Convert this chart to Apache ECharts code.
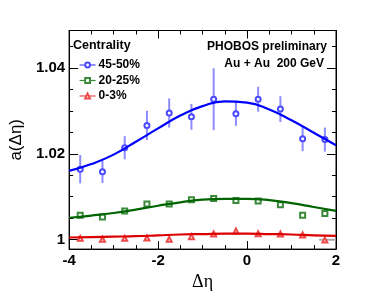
<!DOCTYPE html>
<html>
<head>
<meta charset="utf-8">
<script src="https://cdn.jsdelivr.net/npm/echarts@6/dist/echarts.min.js"></script>
<style>html,body{margin:0;padding:0;background:#fff;}#c{width:374px;height:296px;}</style>
</head>
<body>
<div id="c"></div>
<script>
// ---- data ----
const etaBins   = [-3.75, -3.25, -2.75, -2.25, -1.75, -1.25, -0.75, -0.25, 0.25, 0.75, 1.25, 1.75];
const blueVals  = [1.0164, 1.0158, 1.0214, 1.0266, 1.0295, 1.0286, 1.0327, 1.0293, 1.0327, 1.0304, 1.0235, 1.0233];
const blueErr   = [0.0033, 0.0026, 0.0027, 0.0034, 0.0034, 0.0030, 0.0072, 0.0028, 0.0029, 0.0030, 0.0029, 0.0028];
const greenVals = [1.0057, 1.0053, 1.0067, 1.0083, 1.0083, 1.0093, 1.0096, 1.0091, 1.0090, 1.0081, 1.0057, 1.0061];
const greenErr  = [0.0007, 0.0006, 0.0006, 0.0007, 0.0007, 0.0007, 0.0007, 0.0006, 0.0007, 0.0007, 0.0007, 0.0007];
const redVals   = [1.0003, 1.0001, 1.0003, 1.0004, 1.0001, 1.0007, 1.0013, 1.0020, 1.0014, 1.0013, 1.0011, 0.9999];
const redErr    = [0.0004, 0.0004, 0.0004, 0.0004, 0.0004, 0.0004, 0.0004, 0.0004, 0.0004, 0.0004, 0.0004, 0.0004];
const curveEta  = [-4, -3.5, -3, -2.5, -2, -1.5, -1, -0.5, 0, 0.5, 1, 1.5, 2];
const blueFit   = [1.0160, 1.0176, 1.0198, 1.0228, 1.0259, 1.0289, 1.0311, 1.0322, 1.0319, 1.0303, 1.0278, 1.0249, 1.0220];
const greenFit  = [1.0051, 1.0056, 1.0062, 1.0070, 1.0079, 1.0087, 1.0093, 1.0095, 1.0095, 1.0092, 1.0085, 1.0076, 1.0067];
const redFit    = [1.0005, 1.0006, 1.0007, 1.0008, 1.0010, 1.0012, 1.0013, 1.0014, 1.0014, 1.0013, 1.0012, 1.0010, 1.0009];
const refLineEta = [1.62, 2];
const refLineVal = [1, 1];
const yLabelVals = [1, 1.02, 1.04];
const yMinorVals = [1.005, 1.01, 1.015, 1.025, 1.03, 1.035, 1.045];
const seriesNames = ['45-50%', '20-25%', '0-3%'];

const Y_MIN = 0.9978, Y_MAX = 1.0487;

function pts(xs, ys) { return xs.map((x, i) => [x, ys[i]]); }
function errPts(xs, ys, es) { return xs.map((x, i) => [x, ys[i], es[i]]); }

function errSeries(data, color) {
  return {
    type: 'custom', z: 2, silent: true,
    data: data,
    renderItem: function (params, api) {
      const x = api.value(0), y = api.value(1), e = api.value(2);
      const lo = api.coord([x, y - e]);
      const hi = api.coord([x, y + e]);
      return { type: 'line', shape: { x1: lo[0], y1: lo[1], x2: hi[0], y2: hi[1] },
               style: { stroke: color, lineWidth: 2 } };
    }
  };
}
function markSeries(name, data, color, symbol) {
  return {
    name: name, type: 'line', z: 3, data: data, symbol: symbol, symbolSize: 5,
    showAllSymbol: true,
    itemStyle: { color: color, borderColor: color, borderWidth: 1.1 },
    lineStyle: { color: color, opacity: 0, width: 1 }
  };
}
function fitSeries(data, color) {
  return {
    type: 'line', z: 4, data: data, smooth: true, symbol: 'none', silent: true,
    lineStyle: { color: color, width: 2.2 }
  };
}

const chart = echarts.init(document.getElementById('c'), null, { renderer: 'canvas' });
const yBase = { type: 'value', min: Y_MIN, max: Y_MAX, splitLine: { show: false } };
chart.setOption({
  animation: false,
  backgroundColor: '#fff',
  grid: { left: 56, right: 38, top: 30.5, bottom: 44.5, show: true, borderColor: '#000', borderWidth: 1, backgroundColor: 'transparent' },
  xAxis: [
    { type: 'value', min: -4, max: 2, interval: 2, position: 'bottom',
      name: 'Δη', nameLocation: 'middle', nameGap: 22,
      nameTextStyle: { fontFamily: '"Liberation Serif", serif', fontSize: 18, color: '#000' },
      axisLine: { show: true, onZero: false, lineStyle: { color: '#000', width: 1 } },
      axisTick: { inside: true, length: 8, lineStyle: { color: '#000' } },
      minorTick: { show: true, splitNumber: 4, length: 4, lineStyle: { color: '#000' } },
      axisLabel: { margin: 4, fontFamily: '"Liberation Sans", Arial, sans-serif', fontWeight: 'bold', fontSize: 15, color: '#000',
                   showMinLabel: true, showMaxLabel: true },
      splitLine: { show: false } },
    { type: 'value', min: -4, max: 2, interval: 2, position: 'top',
      axisLine: { show: true, onZero: false, lineStyle: { color: '#000', width: 1 } },
      axisTick: { inside: true, length: 8, lineStyle: { color: '#000' } },
      minorTick: { show: true, splitNumber: 4, length: 4, lineStyle: { color: '#000' } },
      axisLabel: { show: false }, splitLine: { show: false } }
  ],
  yAxis: [
    Object.assign({}, yBase, { position: 'left',
      name: 'a(Δη)', nameLocation: 'middle', nameGap: 39,
      nameTextStyle: { fontFamily: '"Liberation Sans", Arial, sans-serif', fontSize: 17, color: '#000' },
      axisLine: { show: true, onZero: false, lineStyle: { color: '#000', width: 1 } },
      axisTick: { show: true, inside: true, length: 9, customValues: yLabelVals, lineStyle: { color: '#000' } },
      axisLabel: { show: true, customValues: yLabelVals, margin: 4,
                   formatter: v => String(+v.toFixed(2)),
                   fontFamily: '"Liberation Sans", Arial, sans-serif', fontWeight: 'bold', fontSize: 15, color: '#000' } }),
    Object.assign({}, yBase, { position: 'left',
      axisLine: { show: false, onZero: false },
      axisTick: { show: true, inside: true, length: 4, customValues: yMinorVals, lineStyle: { color: '#000' } },
      axisLabel: { show: false } }),
    Object.assign({}, yBase, { position: 'right',
      axisLine: { show: true, onZero: false, lineStyle: { color: '#000', width: 1 } },
      axisTick: { show: true, inside: true, length: 9, customValues: yLabelVals, lineStyle: { color: '#000' } },
      axisLabel: { show: false } }),
    Object.assign({}, yBase, { position: 'right',
      axisLine: { show: false, onZero: false },
      axisTick: { show: true, inside: true, length: 4, customValues: yMinorVals, lineStyle: { color: '#000' } },
      axisLabel: { show: false } })
  ],
  legend: {
    orient: 'vertical', left: 74, top: 54, itemWidth: 16, itemHeight: 6, itemGap: 3.5,
    data: seriesNames,
    lineStyle: { opacity: 1, width: 1.2 },
    textStyle: { fontFamily: '"Liberation Sans", Arial, sans-serif', fontWeight: 'bold', fontSize: 12, color: '#000', padding: [0, 0, 0, -2] }
  },
  graphic: [
    { type: 'text', left: 73, top: 39, style: { text: 'Centrality', font: 'bold 12.5px "Liberation Sans", Arial, sans-serif', fill: '#000' } },
    { type: 'text', right: 47, top: 41, style: { text: 'PHOBOS preliminary', font: 'bold 12px "Liberation Sans", Arial, sans-serif', fill: '#000' } },
    { type: 'text', right: 50, top: 58, style: { text: 'Au + Au  200 GeV', font: 'bold 12px "Liberation Sans", Arial, sans-serif', fill: '#000' } }
  ],
  series: [
    { type: 'line', z: 1, silent: true, symbol: 'none', data: pts(refLineEta, refLineVal),
      lineStyle: { color: '#aaaaaa', width: 2 } },
    errSeries(errPts(etaBins, blueVals, blueErr), '#8c8cff'),
    errSeries(errPts(etaBins, greenVals, greenErr), '#6aaa6a'),
    errSeries(errPts(etaBins, redVals, redErr), '#ff8a8a'),
    markSeries(seriesNames[0], pts(etaBins, blueVals), '#4a4aff', 'emptyCircle'),
    markSeries(seriesNames[1], pts(etaBins, greenVals), '#3b8a3b', 'emptyRect'),
    markSeries(seriesNames[2], pts(etaBins, redVals), '#ee4a4a', 'emptyTriangle'),
    fitSeries(pts(curveEta, blueFit), '#0000ff'),
    fitSeries(pts(curveEta, greenFit), '#006400'),
    fitSeries(pts(curveEta, redFit), '#dd0000')
  ]
});
</script>
</body>
</html>
